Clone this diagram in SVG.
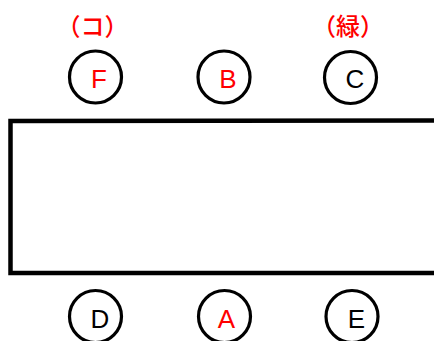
<svg xmlns="http://www.w3.org/2000/svg" width="434" height="341" viewBox="0 0 434 341">
<style>
.c{fill:none;stroke:#000;stroke-width:3.2}
.t{font-family:"Liberation Sans",Arial,sans-serif;font-size:26px;text-anchor:middle}
.r{fill:#ff0000}
.k{fill:#000}
.j{font-family:"Noto Sans CJK JP","Noto Sans CJK SC",sans-serif;font-size:24px;font-weight:500;text-anchor:middle;fill:#ff0000}
</style>
<rect width="434" height="341" fill="#fff"/>
<g id="box"><path d="M440 120.5 L10.5 121 L10.5 273 L440 273" fill="none" stroke="#000" stroke-width="4.5"/></g>
<g id="connectors"></g>
<g id="label-ko"><text class="j" x="92.5" y="35">（コ）</text></g>
<g id="label-midori"><text class="j" x="348" y="35">（緑）</text></g>
<g id="F"><circle class="c" cx="95.5" cy="77" r="26"/><text class="t r" x="99" y="88">F</text></g>
<g id="B"><circle class="c" cx="224" cy="77" r="26"/><text class="t r" x="228" y="88">B</text></g>
<g id="C"><circle class="c" cx="350.5" cy="77.5" r="26"/><text class="t k" x="355" y="88">C</text></g>
<g id="D"><circle class="c" cx="95.5" cy="316.5" r="26"/><text class="t k" x="100" y="328">D</text></g>
<g id="A"><circle class="c" cx="224.5" cy="316.5" r="26"/><text class="t r" x="226.5" y="328">A</text></g>
<g id="E"><circle class="c" cx="352" cy="316.5" r="26"/><text class="t k" x="356.5" y="328">E</text></g>
</svg>
